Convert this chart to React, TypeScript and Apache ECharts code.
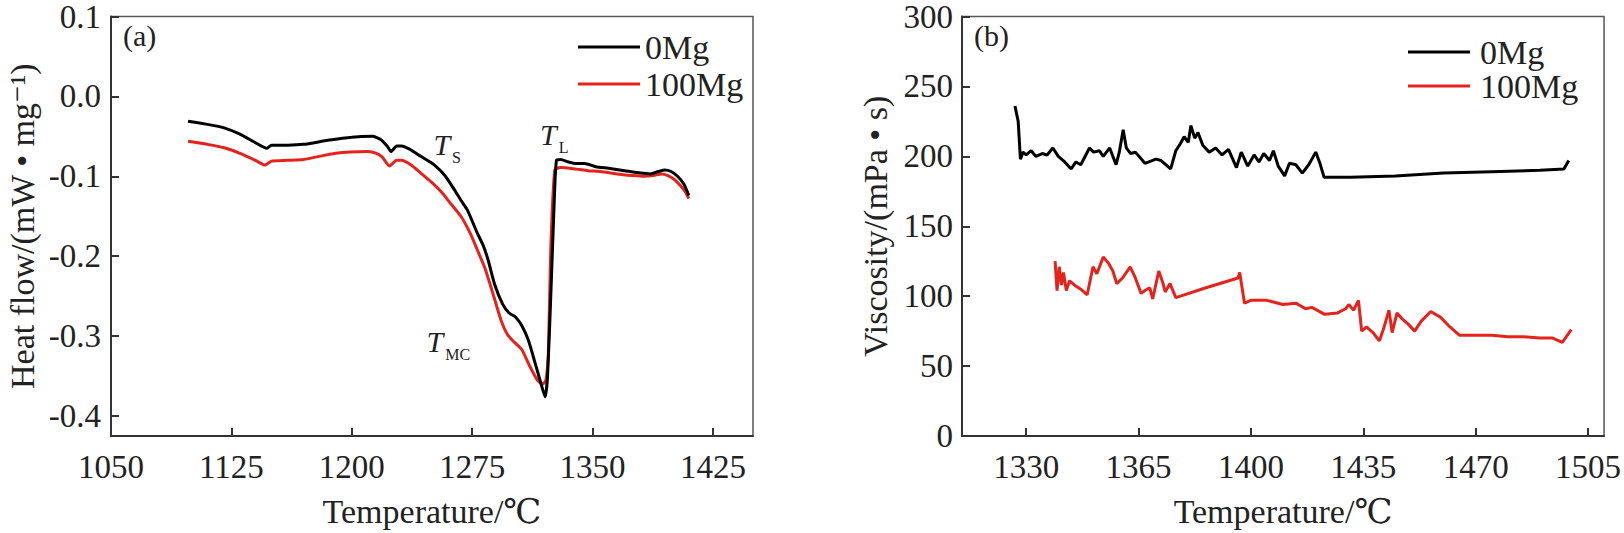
import React, { useEffect, useRef } from "react";
import * as echarts from "echarts";

// ---------- Data: (a) DSC heat flow ----------
const heatFlow0Mg: [number, number][] = [
  [1098, -0.031], [1110, -0.035], [1120, -0.039], [1130, -0.047], [1140, -0.058],
  [1147, -0.065], [1150, -0.061], [1160, -0.061], [1170, -0.060], [1185, -0.055],
  [1200, -0.051], [1213, -0.050], [1218, -0.054], [1222, -0.062], [1224.5, -0.069],
  [1228, -0.062], [1231, -0.062], [1236, -0.066], [1243, -0.075], [1251, -0.085],
  [1258, -0.099], [1264, -0.117], [1268, -0.130], [1272, -0.142], [1278, -0.170],
  [1282, -0.187], [1285, -0.205], [1289, -0.235], [1294, -0.260], [1298, -0.271],
  [1302, -0.276], [1306, -0.287], [1310, -0.305], [1314, -0.332], [1318, -0.360],
  [1320.5, -0.376], [1322, -0.350], [1324, -0.250], [1326, -0.140], [1327.5, -0.080],
  [1330, -0.079], [1335, -0.082], [1340, -0.084], [1345, -0.084], [1352, -0.088],
  [1360, -0.090], [1370, -0.093], [1380, -0.096], [1386, -0.097], [1391, -0.094],
  [1395, -0.092], [1399, -0.094], [1403, -0.100], [1407, -0.110], [1410, -0.124],
];
const heatFlow100Mg: [number, number][] = [
  [1098, -0.056], [1110, -0.060], [1120, -0.064], [1130, -0.071], [1140, -0.080],
  [1146, -0.086], [1150, -0.081], [1160, -0.080], [1170, -0.079], [1190, -0.071],
  [1210, -0.069], [1215, -0.071], [1219, -0.076], [1223.5, -0.087], [1228, -0.080],
  [1231, -0.080], [1237, -0.086], [1243, -0.096], [1250, -0.108], [1256, -0.120],
  [1262, -0.135], [1268, -0.150], [1274, -0.172], [1278, -0.191], [1283, -0.215],
  [1288, -0.247], [1293, -0.280], [1297, -0.298], [1301, -0.307], [1306, -0.317],
  [1311, -0.338], [1316, -0.356], [1319, -0.360], [1321, -0.355], [1322.5, -0.320],
  [1324, -0.190], [1326.5, -0.092], [1330, -0.089], [1340, -0.091], [1347, -0.093],
  [1355, -0.094], [1365, -0.097], [1375, -0.099], [1382, -0.100], [1388, -0.099],
  [1393, -0.097], [1397, -0.099], [1401, -0.104], [1405, -0.112], [1408, -0.120],
  [1410, -0.128],
];

// ---------- Data: (b) viscosity ----------
const viscosity0Mg: [number, number][] = [
  [1326.5, 236], [1327.5, 225], [1328.2, 198], [1329, 203], [1330, 201], [1331.5, 204],
  [1333, 200], [1335, 202], [1336.5, 201], [1338.3, 206], [1340, 200], [1342, 196],
  [1344, 191], [1345.5, 196], [1347, 194], [1349.7, 206], [1351, 203], [1352.8, 204],
  [1354, 200], [1356, 206], [1358, 194], [1359, 203], [1360.2, 219], [1361.2, 206],
  [1362.5, 202], [1364, 203], [1367, 195], [1370.4, 198], [1372, 197], [1375, 191],
  [1376.6, 204], [1378, 209], [1379.2, 214], [1380.5, 210], [1381.3, 222], [1382.5, 213],
  [1383.5, 217], [1385, 208], [1387, 203], [1389, 206], [1391, 201], [1393, 205],
  [1395.5, 192], [1397, 203], [1399, 193], [1401, 201], [1402.5, 196], [1404, 202],
  [1405.8, 197], [1407, 204], [1408.5, 193], [1410.5, 186], [1412, 195], [1414, 194],
  [1416, 188], [1418, 194], [1420.2, 203], [1421.5, 195], [1422.8, 185], [1431, 185],
  [1445, 186], [1460, 188], [1475, 189], [1490, 190], [1497.5, 191], [1499, 197],
];
const viscosity100Mg: [number, number][] = [
  [1339, 125], [1339.6, 104], [1340.3, 121], [1341, 108], [1341.6, 117], [1342.5, 104],
  [1343.5, 111], [1345, 108], [1347, 105], [1349, 101], [1350.8, 121], [1352, 116],
  [1354, 128], [1355.5, 124], [1357, 118], [1358.2, 109], [1360, 113], [1362.4, 121],
  [1364, 113], [1365.8, 102], [1367, 104], [1368.5, 106], [1369.4, 98], [1371.3, 118],
  [1372.5, 110], [1373.3, 103], [1374.8, 109], [1376.6, 99], [1386, 106], [1396, 113],
  [1396.5, 117], [1398, 95], [1400, 97], [1405, 97], [1410, 94], [1414, 95], [1417, 91],
  [1419, 92], [1423, 87], [1427, 88], [1429.5, 91], [1430.5, 94], [1432, 90],
  [1433.5, 97], [1434.5, 75], [1436, 78], [1438, 74], [1440, 68], [1441.5, 78],
  [1443, 90], [1444, 74], [1445.5, 88], [1447, 84], [1449, 80], [1451, 75], [1453, 82],
  [1456, 89], [1459, 85], [1462, 78], [1465, 72], [1470, 72], [1475, 72], [1480, 71],
  [1485, 71], [1490, 70], [1494, 70], [1497, 67], [1499.8, 76],
];

// ---------- Tick values ----------
const heatFlowTicks = [-0.4, -0.3, -0.2, -0.1, 0, 0.1];
const tempTicksA = [1050, 1125, 1200, 1275, 1350, 1425];
const tempTicksB = [1330, 1365, 1400, 1435, 1470, 1505];

// ---------- Annotations on (a) ----------
const annotations = [
  { main: "T", sub: "S", temp: 1259.5, value: -0.0596 },
  { main: "T", sub: "L", temp: 1326.2, value: -0.0473 },
  { main: "T", sub: "MC", temp: 1260.2, value: -0.3065 },
];

const FONT = '"Liberation Serif", "Times New Roman", "DejaVu Serif", serif';
const INK = "#222";
const RED = "#e3231c";

export default function App() {
  const ref = useRef<HTMLDivElement>(null);

  useEffect(() => {
    if (!ref.current) return;
    const chart = echarts.init(ref.current, undefined, { renderer: "svg" });

    const axisCommon = {
      type: "value" as const,
      axisLine: { show: true, onZero: false, lineStyle: { color: "#333", width: 2 } },
      axisTick: { show: true, inside: true, length: 8, lineStyle: { color: "#333", width: 2 } },
      splitLine: { show: false },
      nameTextStyle: { fontFamily: FONT, fontSize: 34, color: INK },
    };
    const labelCommon = { fontFamily: FONT, fontSize: 33, color: INK };
    const plain = (v: number) => String(Math.round(v));

    const lineSeries = (name: string, data: [number, number][], color: string, idx: number, smooth: number | boolean) => ({
      name,
      type: "line" as const,
      xAxisIndex: idx,
      yAxisIndex: idx,
      data,
      showSymbol: false,
      symbol: "none",
      smooth,
      lineStyle: { color, width: 3 },
      itemStyle: { color },
      z: color === RED ? 3 : 4,
    });

    const rich = {
      t: { fontFamily: FONT, fontStyle: "italic" as const, fontSize: 30, color: INK, verticalAlign: "bottom" as const, lineHeight: 30 },
      s: { fontFamily: FONT, fontSize: 16, color: INK, verticalAlign: "bottom" as const, lineHeight: 30, padding: [0, 0, -6, 2] },
    };

    const option: any = {
      animation: false,
      backgroundColor: "#ffffff",
      grid: [
        { left: 111, top: 11, width: 642, height: 425, show: true, borderColor: "#555", borderWidth: 1.5, backgroundColor: "transparent" },
        { left: 962, top: 11, width: 644, height: 425, show: true, borderColor: "#555", borderWidth: 1.5, backgroundColor: "transparent" },
      ],
      xAxis: [
        {
          ...axisCommon,
          gridIndex: 0,
          min: 1050,
          max: 1450,
          name: "Temperature/℃",
          nameLocation: "middle",
          nameGap: 58,
          axisLabel: { ...labelCommon, margin: 14, customValues: tempTicksA, formatter: plain },
          axisTick: { ...axisCommon.axisTick, customValues: tempTicksA },
        },
        {
          ...axisCommon,
          gridIndex: 1,
          min: 1310,
          max: 1510,
          name: "Temperature/℃",
          nameLocation: "middle",
          nameGap: 58,
          axisLabel: { ...labelCommon, margin: 14, customValues: tempTicksB, formatter: plain },
          axisTick: { ...axisCommon.axisTick, customValues: tempTicksB },
        },
      ],
      yAxis: [
        {
          ...axisCommon,
          gridIndex: 0,
          min: -0.425,
          max: 0.1,
          name: "Heat flow/(mW • mg⁻¹)",
          nameLocation: "middle",
          nameGap: 72,
          nameRotate: 90,
          axisLabel: {
            ...labelCommon,
            margin: 10,
            customValues: heatFlowTicks,
            formatter: (v: number) => v.toFixed(1),
          },
          axisTick: { ...axisCommon.axisTick, customValues: heatFlowTicks },
        },
        {
          ...axisCommon,
          gridIndex: 1,
          min: 0,
          max: 300,
          interval: 50,
          name: "Viscosity/(mPa • s)",
          nameLocation: "middle",
          nameGap: 70,
          nameRotate: 90,
          axisLabel: { ...labelCommon, margin: 9, formatter: plain },
        },
      ],
      legend: [
        {
          data: ["0Mg", "100Mg"],
          orient: "vertical",
          left: 573,
          top: 25,
          icon: "rect",
          itemWidth: 62,
          itemHeight: 3,
          itemGap: 3,
          selectedMode: false,
          textStyle: { fontFamily: FONT, fontSize: 34, color: INK, lineHeight: 34 },
        },
        {
          data: ["0Mg", "100Mg"],
          orient: "vertical",
          left: 1403,
          top: 30,
          icon: "rect",
          itemWidth: 62,
          itemHeight: 3,
          itemGap: 0,
          selectedMode: false,
          textStyle: { fontFamily: FONT, fontSize: 34, color: INK, lineHeight: 33, padding: [0, 0, 0, 5] },
        },
      ],
      graphic: [
        { type: "text", left: 123, top: 20, style: { text: "(a)", font: `30px ${FONT}`, fill: INK } },
        { type: "text", left: 974, top: 20, style: { text: "(b)", font: `30px ${FONT}`, fill: INK } },
      ],
      series: [
        {
          ...lineSeries("0Mg", heatFlow0Mg, "#000000", 0, 0.2),
          markPoint: {
            symbol: "circle",
            symbolSize: 0,
            silent: true,
            data: annotations.map((a) => ({
              coord: [a.temp, a.value],
              label: {
                show: true,
                position: "inside",
                formatter: `{t|${a.main}}{s|${a.sub}}`,
                rich,
              },
            })),
          },
        },
        lineSeries("100Mg", heatFlow100Mg, RED, 0, 0.2),
        lineSeries("0Mg", viscosity0Mg, "#000000", 1, false),
        lineSeries("100Mg", viscosity100Mg, RED, 1, false),
      ],
    };

    chart.setOption(option);
    return () => chart.dispose();
  }, []);

  return (
    <div
      ref={ref}
      style={{ position: "fixed", left: 0, top: 0, width: "1624px", height: "533px", background: "#fff" }}
    />
  );
}
